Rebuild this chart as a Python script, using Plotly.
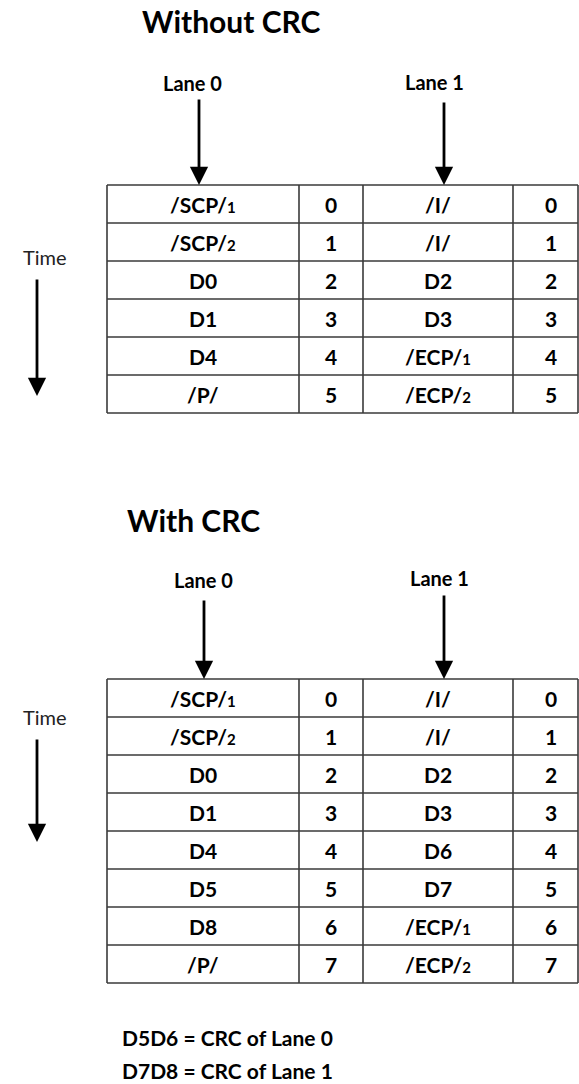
import re
import plotly.graph_objects as go

# ---------------- data ----------------
title_top = "Without CRC"
title_bottom = "With CRC"
lane_labels = ["Lane 0", "Lane 1"]
time_label = "Time"

top_lane0 = ["/SCP/1", "/SCP/2", "D0", "D1", "D4", "/P/"]
top_lane1 = ["/I/", "/I/", "D2", "D3", "/ECP/1", "/ECP/2"]
top_index = [0, 1, 2, 3, 4, 5]

bot_lane0 = ["/SCP/1", "/SCP/2", "D0", "D1", "D4", "D5", "D8", "/P/"]
bot_lane1 = ["/I/", "/I/", "D2", "D3", "D6", "D7", "/ECP/1", "/ECP/2"]
bot_index = [0, 1, 2, 3, 4, 5, 6, 7]

notes = ["D5D6 = CRC of Lane 0", "D7D8 = CRC of Lane 1"]

# ---------------- layout constants (pixels) ----------------
W, H = 579, 1084
COL_EDGES = [107, 299, 363, 513, 578]
COL_TEXT_X = [203, 331, 438, 551]
ROW_H = 38
FONT = "Lato, 'Open Sans', sans-serif"
LINE_COL = "#3a3a3a"

fig = go.Figure()
shapes = []
annotations = []


def fmt(label):
    m = re.match(r"^(/\w+/)(\d)$", label)
    if m:
        return m.group(1) + "<span style='font-size:15px'>" + m.group(2) + "</span>"
    return label


def add_table(top_y, lane0, lane1, idx):
    n = len(idx)
    bottom = top_y + n * ROW_H
    for k in range(n + 1):
        y = top_y + k * ROW_H
        shapes.append(dict(type="line", xref="x", yref="y", x0=COL_EDGES[0], x1=COL_EDGES[-1],
                           y0=y, y1=y, line=dict(color=LINE_COL, width=1.6)))
    for x in COL_EDGES:
        shapes.append(dict(type="line", xref="x", yref="y", x0=x, x1=x,
                           y0=top_y, y1=bottom, line=dict(color=LINE_COL, width=1.6)))
    for i, (a, b) in enumerate(zip(lane0, lane1)):
        yc = top_y + (idx[i] + 0.5) * ROW_H
        for cx, txt in zip(COL_TEXT_X, [fmt(a), str(idx[i]), fmt(b), str(idx[i])]):
            annotations.append(dict(x=cx, y=yc, xref="x", yref="y", text="<b>" + txt + "</b>",
                                    showarrow=False, xanchor="center", yanchor="middle",
                                    font=dict(family=FONT, size=21, color="#000")))


def add_arrow(x, y0, y1, width=2.8):
    annotations.append(dict(x=x, y=y1, ax=x, ay=y0, xref="x", yref="y", axref="x", ayref="y",
                            text="", showarrow=True, arrowhead=2, arrowsize=1.3,
                            arrowwidth=width, arrowcolor="#000", standoff=0))


def add_text(x, y, text, size, bold=True, anchor="center", color="#000"):
    annotations.append(dict(x=x, y=y, xref="x", yref="y",
                            text=("<b>" + text + "</b>") if bold else text,
                            showarrow=False, xanchor=anchor, yanchor="middle",
                            font=dict(family=FONT, size=size, color=color)))


# ----- top section -----
add_text(140, 21, title_top, 30, anchor="left")
add_text(192, 83, lane_labels[0], 20)
add_text(434, 82, lane_labels[1], 20)
add_arrow(199, 98, 185)
add_arrow(444, 101, 185)
add_table(185, top_lane0, top_lane1, top_index)
add_text(45, 257, time_label, 20, bold=False, color="#222")
add_arrow(37, 278, 396)

# ----- bottom section -----
add_text(125, 520, title_bottom, 30, anchor="left")
add_text(203, 580, lane_labels[0], 20)
add_text(439, 578, lane_labels[1], 20)
add_arrow(204, 599, 679)
add_arrow(444, 594, 679)
add_table(679, bot_lane0, bot_lane1, bot_index)
add_text(45, 717, time_label, 20, bold=False, color="#222")
add_arrow(37, 738, 842)

for j, t in enumerate(notes):
    add_text(120, 1037 + j * 33, t, 21, anchor="left")

fig.update_layout(
    width=W, height=H, margin=dict(l=0, r=0, t=0, b=0),
    paper_bgcolor="white", plot_bgcolor="white",
    xaxis=dict(range=[0, W], visible=False, fixedrange=True),
    yaxis=dict(range=[H, 0], visible=False, fixedrange=True),
    shapes=shapes, annotations=annotations, showlegend=False,
)

fig.write_html("out.html", config={"displayModeBar": False},
               post_script="document.body.style.margin='0';")
